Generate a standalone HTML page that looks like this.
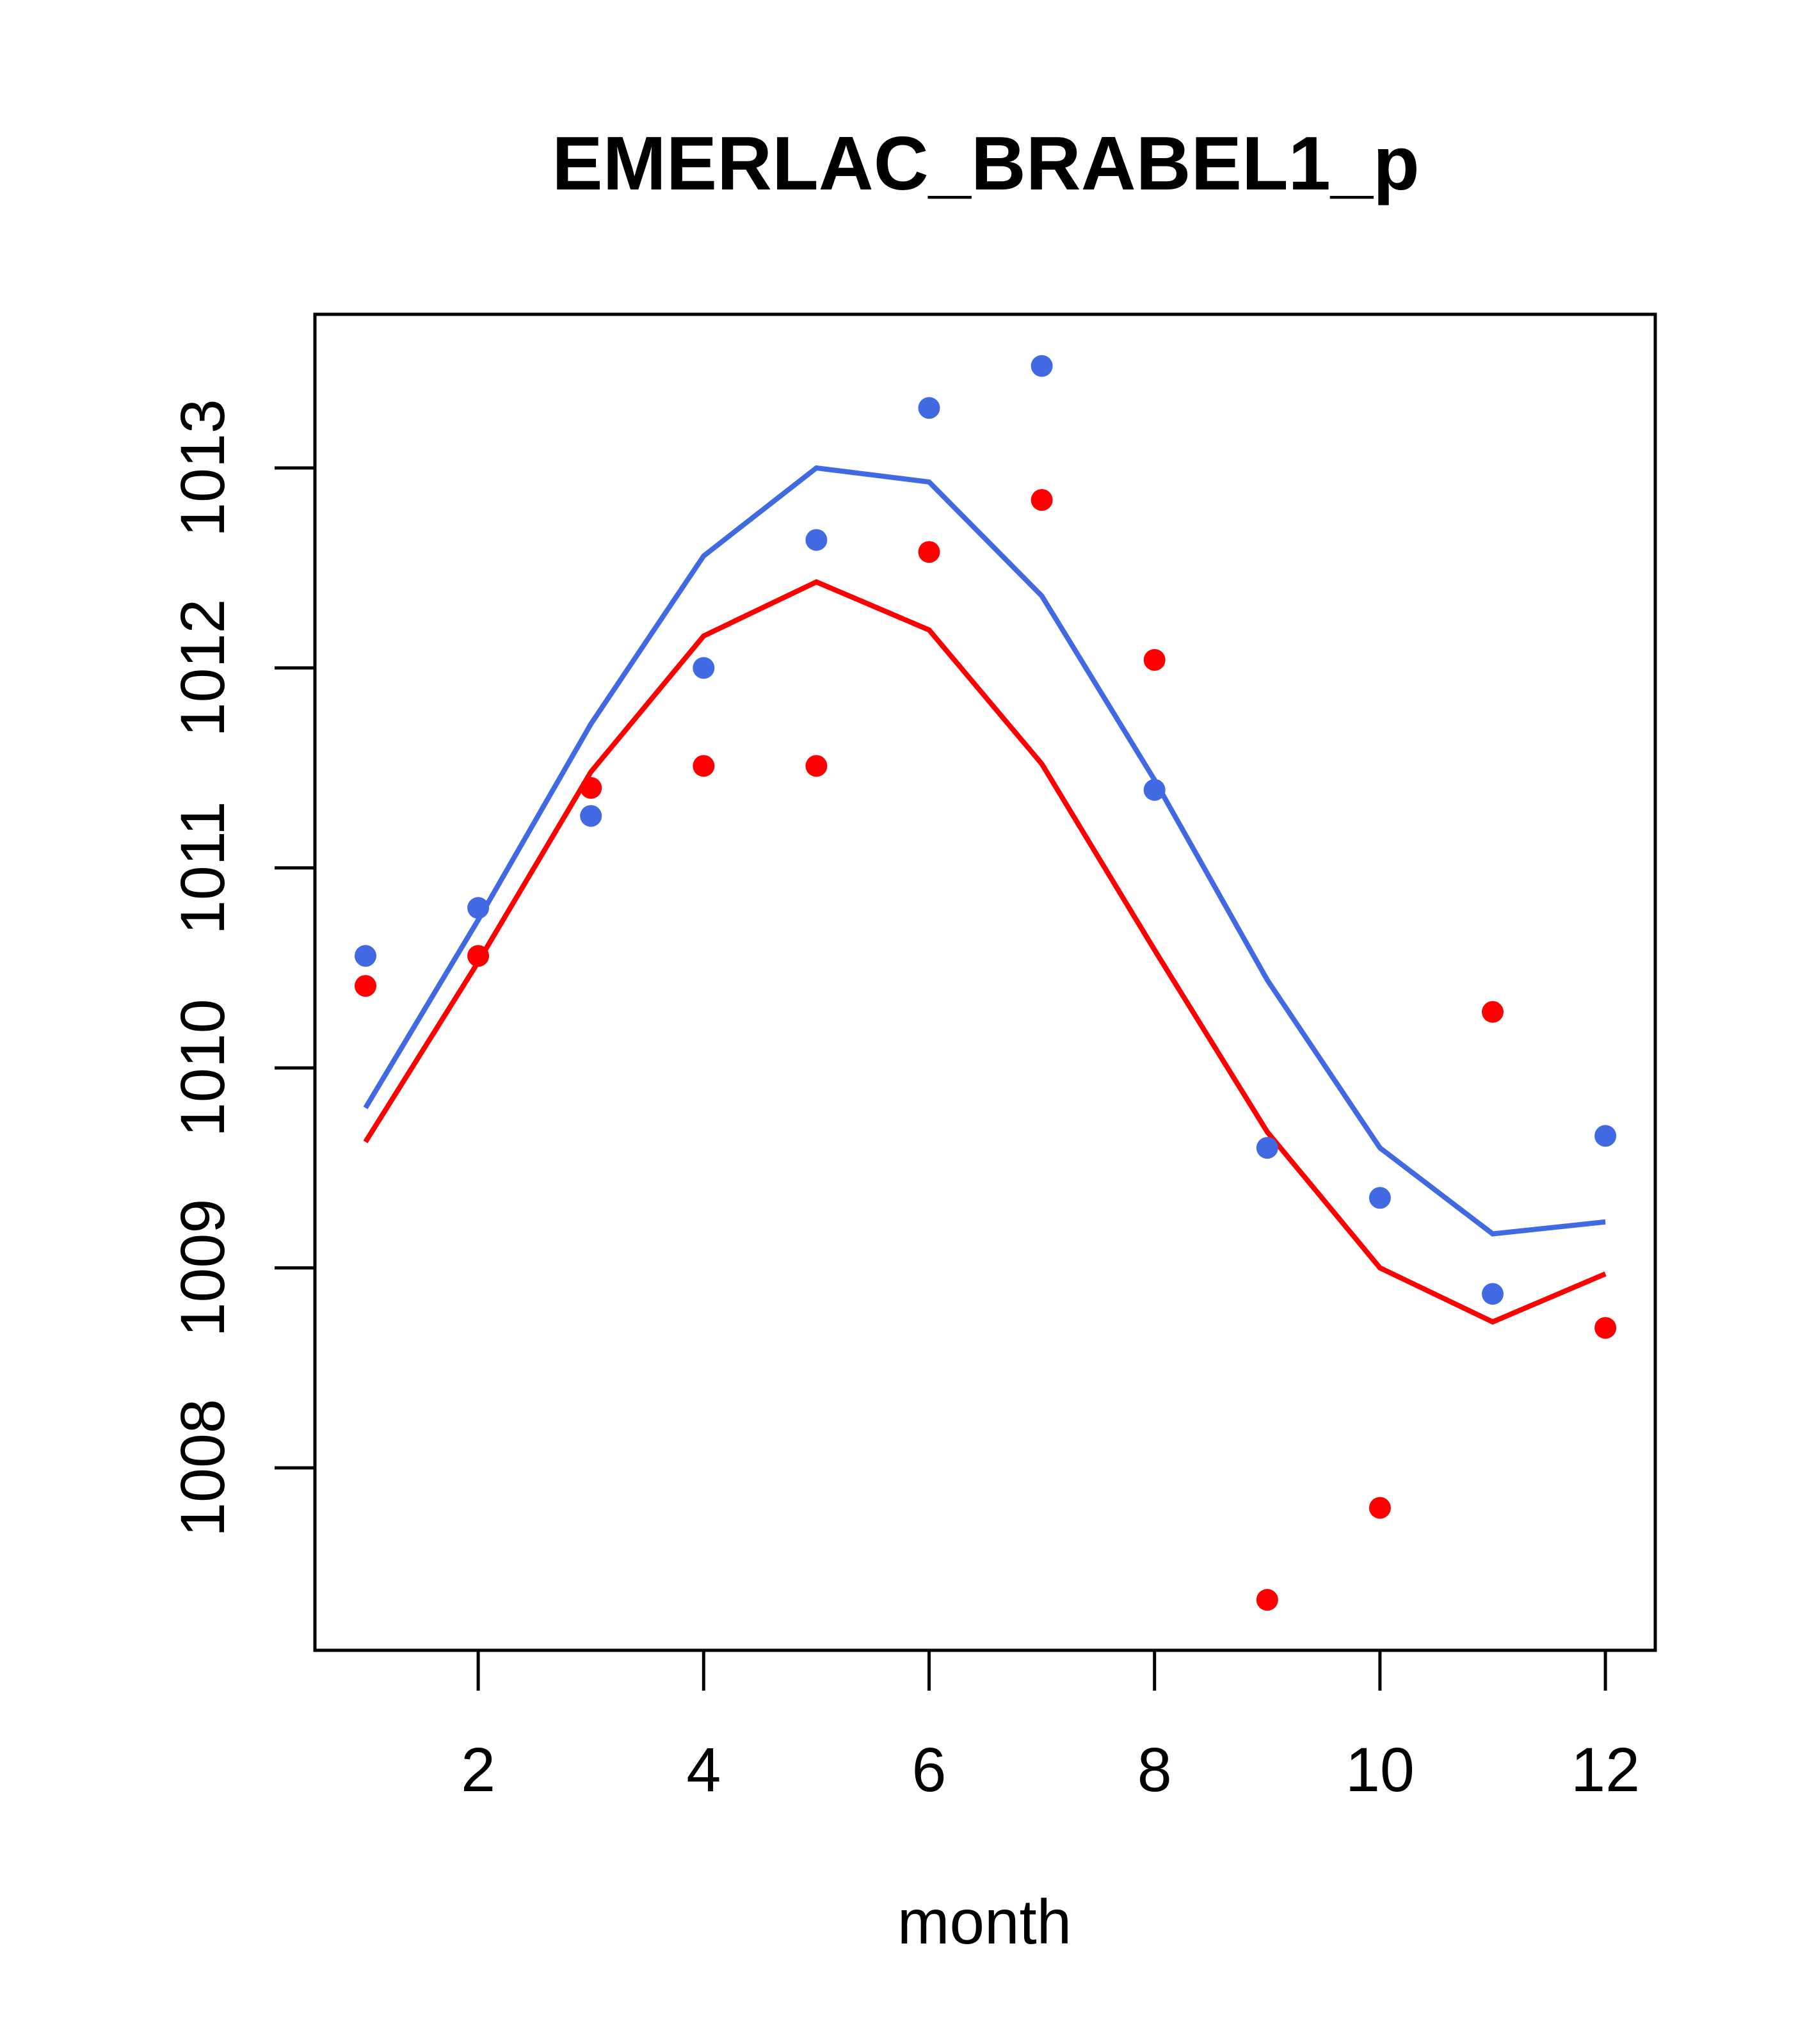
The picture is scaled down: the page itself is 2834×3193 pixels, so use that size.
<!DOCTYPE html>
<html><head><meta charset="utf-8"><style>html,body{margin:0;padding:0;background:#fff}</style></head>
<body>
<svg id="chart" width="2834" height="3188" xmlns="http://www.w3.org/2000/svg" font-family="Liberation Sans, Arial, sans-serif">
<rect width="2834" height="3188" fill="#fff"/>
<text x="1540" y="296" font-size="119" font-weight="bold" text-anchor="middle">EMERLAC_BRABEL1_p</text>
<text x="1538" y="3036" font-size="98" text-anchor="middle">month</text>
<g id="plot"></g>
</svg>
<script>
const months=[1,2,3,4,5,6,7,8,9,10,11,12];
const bluePoints=[1010.56,1010.80,1011.26,1012.0,1012.64,1013.30,1013.51,1011.39,1009.60,1009.35,1008.87,1009.66];
const redPoints=[1010.41,1010.56,1011.40,1011.51,1011.51,1012.58,1012.84,1012.04,1007.34,1007.80,1010.28,1008.70];
const blueLine=[1009.80,1010.74,1011.72,1012.56,1013.0,1012.93,1012.36,1011.44,1010.44,1009.60,1009.17,1009.23];
const redLine=[1009.63,1010.53,1011.48,1012.16,1012.43,1012.19,1011.52,1010.59,1009.68,1009.0,1008.73,1008.97];
const xTicks=[2,4,6,8,10,12];
const yTicks=[1008,1009,1010,1011,1012,1013];

const NS="http://www.w3.org/2000/svg";
const g=document.getElementById('plot');
const X=m=>571+(m-1)*176.1;
const Y=v=>731-(v-1013)*312.4;
function mk(t,a){const e=document.createElementNS(NS,t);for(const k in a)e.setAttribute(k,a[k]);g.appendChild(e);return e;}

const box=mk('rect',{x:492,y:491,width:2094,height:2087,fill:'none',stroke:'#000','stroke-width':5});



xTicks.forEach(t=>{
  const l=mk('line',{x1:X(t),x2:X(t),y1:2578,y2:2641,stroke:'#000','stroke-width':5});
  
  
  const tx=mk('text',{x:X(t),y:2798,'font-size':97,'text-anchor':'middle'});
  tx.textContent=t;
  
  
});
yTicks.forEach(t=>{
  const l=mk('line',{x1:429,x2:492,y1:Y(t),y2:Y(t),stroke:'#000','stroke-width':5});
  
  
  const tx=mk('text',{x:350,y:Y(t),'font-size':97,'text-anchor':'middle',transform:`rotate(-90 350 ${Y(t)})`});
  tx.textContent=t;
  
  
});

function line(vals,col,name){
  const p=mk('polyline',{points:vals.map((v,i)=>X(months[i])+','+Y(v)).join(' '),fill:'none',stroke:col,'stroke-width':8});
  
  
}
function pts(vals,col,name){
  vals.forEach((v,i)=>{
    const c=mk('circle',{cx:X(months[i]),cy:Y(v),r:17,fill:col});
    
    
  });
}
line(blueLine,'#4169e1','blue-line');
line(redLine,'#ff0000','red-line');
pts(bluePoints,'#4169e1','blue-point');
pts(redPoints,'#ff0000','red-point');
</script>
</body></html>
